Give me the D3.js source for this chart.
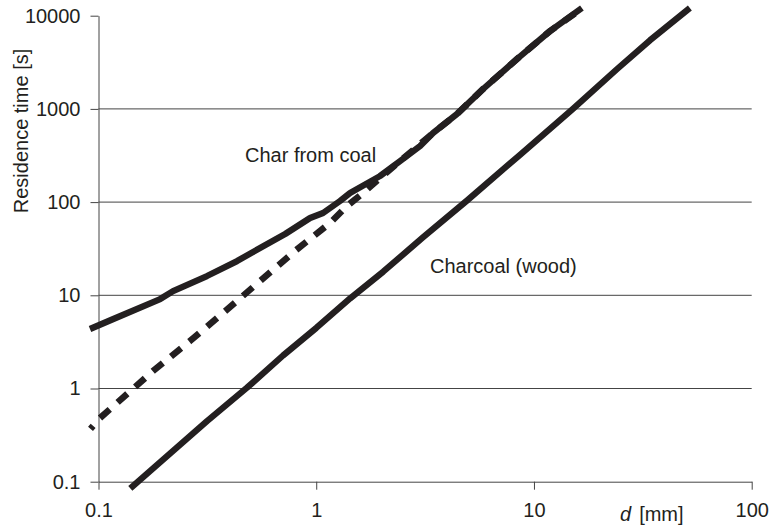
<!DOCTYPE html>
<html>
<head>
<meta charset="utf-8">
<script src="https://cdn.jsdelivr.net/npm/d3@7"></script>
<style>
  html, body { margin: 0; padding: 0; background: #fff; }
  svg { display: block; font-family: "Liberation Sans", Arial, Helvetica, sans-serif; }
</style>
</head>
<body>
<svg id="chart" width="773" height="531"></svg>
<script>
// ---- data ----
const xTicks = [0.1, 1, 10, 100];
const xTickLabels = ["0.1", "1", "10", "100"];
const yTicks = [0.1, 1, 10, 100, 1000, 10000];
const yTickLabels = ["0.1", "1", "10", "100", "1000", "10000"];
const gridValues = [1, 10, 100, 1000];

// Char from coal (solid)
const coalD = [0.0914, 0.117, 0.192, 0.22, 0.315, 0.433, 0.552, 0.72, 0.937, 1.075, 1.286, 1.43, 1.96, 2.43, 3.0, 3.44, 4.43, 5.84, 8.36, 11.86, 16.6];
const coalT = [4.35, 5.57, 9.12, 11.1, 16.1, 23.3, 32.2, 45.5, 67.5, 76.4, 102.8, 125, 190, 276, 400, 551, 881, 1635, 3430, 6850, 12100];

// Char from coal (dashed)
const coalDashD = [0.0919, 0.1016, 0.178, 0.263, 0.373, 0.552, 0.799, 1.157, 1.385, 1.64, 1.96, 2.43, 3.44, 4.43, 5.84, 8.36, 11.86, 16.8];
const coalDashT = [0.368, 0.482, 1.54, 3.23, 6.46, 14.2, 29.9, 59.7, 90.8, 125, 181, 276, 551, 881, 1635, 3430, 6850, 12200];

// Charcoal (wood)
const woodD = [0.14, 0.315, 0.481, 0.704, 1.0, 1.43, 2.03, 3.09, 4.93, 8.63, 15.1, 24.1, 34.1, 52];
const woodT = [0.085, 0.446, 1.02, 2.26, 4.46, 9.25, 17.9, 41.8, 104, 322, 1000, 2680, 5450, 12100];

const yTitle = "Residence time [s]";
const xTitleVar = "d";
const xTitleUnit = "[mm]";
const coalLabel = "Char from coal";
const woodLabel = "Charcoal (wood)";

// ---- layout ----
const svg = d3.select("#chart");
const x = d3.scaleLog().domain([0.1, 100]).range([98.5, 751.7]);
const y = d3.scaleLog().domain([0.1, 10000]).range([481.7, 15.7]);
const ink = "#231f20";
const axisCol = "#444";

// gridlines
svg.append("g").selectAll("line").data(gridValues).join("line")
  .attr("x1", x(0.1)).attr("x2", x(100))
  .attr("y1", d => y(d)).attr("y2", d => y(d))
  .attr("stroke", axisCol).attr("stroke-width", 1);

// y axis
const yAxis = d3.axisLeft(y).tickValues(yTicks)
  .tickFormat((d, i) => yTickLabels[i]).tickSize(8).tickPadding(10).tickSizeOuter(0);
const gy = svg.append("g").attr("transform", `translate(${x(0.1)},0)`).call(yAxis);
gy.select(".domain").attr("stroke", axisCol);
gy.selectAll(".tick line").attr("stroke", axisCol);
gy.selectAll(".tick text").attr("fill", ink).style("font-size", "20px").style("font-family", "'Liberation Sans', Arial, sans-serif");

// x axis
const xAxis = d3.axisBottom(x).tickValues(xTicks)
  .tickFormat((d, i) => xTickLabels[i]).tickSize(8).tickPadding(13).tickSizeOuter(0);
const gx = svg.append("g").attr("transform", `translate(0,${y(0.1)})`).call(xAxis);
gx.select(".domain").attr("stroke", axisCol);
gx.selectAll(".tick line").attr("stroke", axisCol);
gx.selectAll(".tick text").attr("fill", ink).style("font-size", "20px").style("font-family", "'Liberation Sans', Arial, sans-serif");

// lines
const line = d3.line().x(d => x(d[0])).y(d => y(d[1])).curve(d3.curveLinear);
const zip = (a, b) => a.map((v, i) => [v, b[i]]);

svg.append("path").datum(zip(coalDashD, coalDashT))
  .attr("d", line).attr("fill", "none").attr("stroke", ink)
  .attr("stroke-width", 6.5).attr("stroke-dasharray", "13,10.5").attr("stroke-dashoffset", 9);

svg.append("path").datum(zip(coalD, coalT))
  .attr("d", line).attr("fill", "none").attr("stroke", ink)
  .attr("stroke-width", 6.3).attr("stroke-linejoin", "round");

svg.append("path").datum(zip(woodD, woodT))
  .attr("d", line).attr("fill", "none").attr("stroke", ink)
  .attr("stroke-width", 6.3).attr("stroke-linejoin", "round");

// annotations
svg.append("text").attr("x", 245).attr("y", 162).attr("fill", ink)
  .style("font-size", "20px").text(coalLabel);
svg.append("text").attr("x", 430).attr("y", 273).attr("fill", ink)
  .style("font-size", "20px").text(woodLabel);

// axis titles
svg.append("text").attr("transform", "translate(28,131) rotate(-90)")
  .attr("text-anchor", "middle").attr("fill", ink).style("font-size", "20px").text(yTitle);

const xt = svg.append("text").attr("x", 620).attr("y", 521).attr("fill", ink).style("font-size", "20px");
xt.append("tspan").style("font-style", "italic").text(xTitleVar);
xt.append("tspan").attr("dx", 8).text(xTitleUnit);
</script>
</body>
</html>
